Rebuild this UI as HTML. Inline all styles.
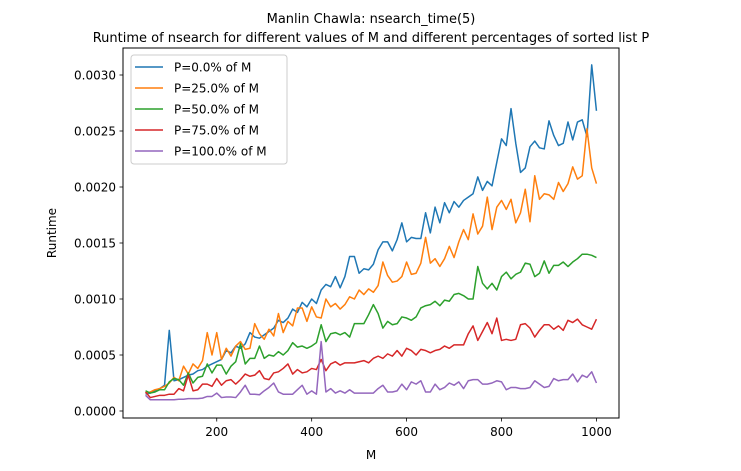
<!DOCTYPE html>
<html><head><meta charset="utf-8"><style>
html,body{margin:0;padding:0;background:#fff;}
svg{display:block;font-family:"DejaVu Sans","Liberation Sans",sans-serif;}
</style></head><body>
<svg id="chart" width="741" height="471" viewBox="0 0 741 471">
<text x="371" y="23" text-anchor="middle" font-size="13" fill="#000">Manlin Chawla: nsearch_time(5)</text>
<text x="371" y="42" text-anchor="middle" font-size="13" fill="#000">Runtime of nsearch for different values of M and different percentages of sorted list P</text>
<g id="plot"></g>
<rect x="123" y="48" width="496" height="370" fill="none" stroke="#000" stroke-width="1"/>
<g id="axes"></g>
<text x="371" y="459" text-anchor="middle" font-size="12">M</text>
<text transform="translate(56,233) rotate(-90)" text-anchor="middle" font-size="12">Runtime</text>
<g id="legend"></g>
</svg>
<script>
const xTicks=[200,400,600,800,1000];
const yTicks=[0,0.0005,0.0010,0.0015,0.0020,0.0025,0.0030];
const yTickLabels=["0.0000","0.0005","0.0010","0.0015","0.0020","0.0025","0.0030"];
const seriesNames=["P=0.0% of M","P=25.0% of M","P=50.0% of M","P=75.0% of M","P=100.0% of M"];
const colors=["#1f77b4","#ff7f0e","#2ca02c","#d62728","#9467bd"];
const p0=[1.5,1.6,1.8,2.0,2.3,7.2,2.7,2.8,3.0,3.2,3.3,3.6,3.7,4.0,4.2,4.4,4.6,5.4,5.2,5.8,5.6,6.0,7.0,6.6,6.5,6.8,7.1,7.4,8.1,7.9,8.3,9.1,8.8,9.7,9.3,10.0,9.6,10.8,11.3,11.1,12.0,11.0,12.0,13.8,13.8,
12.3,12.7,12.6,13.1,14.4,15.1,15.1,14.3,15.3,16.8,15.1,15.5,15.4,15.4,17.7,15.9,18.2,16.8,18.6,17.7,18.7,18.2,18.8,19.1,19.4,20.9,19.7,20.5,20.1,22.2,24.3,23.7,27.0,23.9,21.3,21.7,23.6,24.1,23.5,23.4,25.9,24.6,23.7,23.9,25.8,24.2,25.8,26.0,24.5,30.9,26.8];
const p25=[1.6,1.7,1.9,2.0,2.2,2.5,3.0,2.7,4.0,3.3,4.2,3.8,4.5,7.0,5.0,7.0,4.6,5.6,4.9,5.8,6.2,5.5,5.6,7.8,6.9,6.4,7.3,6.7,8.7,7.0,8.0,7.6,9.2,9.2,8.0,9.3,8.4,8.3,10.0,9.3,9.6,9.1,9.5,10.2,10.0,
10.8,10.4,10.9,10.6,11.2,13.3,12.1,11.5,11.6,12.0,13.3,12.2,12.3,13.2,15.5,13.2,13.6,12.9,13.6,14.7,13.7,15.1,16.2,15.3,17.6,15.8,16.5,19.1,16.2,18.2,18.8,18.0,18.9,16.8,17.7,19.8,16.9,21.0,18.9,19.4,19.3,18.9,20.4,19.6,20.3,21.8,20.7,21.0,25.2,21.7,20.3];
const p50=[1.8,1.6,1.7,1.9,1.9,2.6,2.9,2.8,2.3,3.4,2.5,3.0,3.1,4.2,3.4,4.1,4.1,3.3,4.0,4.4,6.0,4.2,4.7,4.7,5.8,4.7,5.0,4.9,5.3,5.0,5.4,6.1,5.7,5.8,5.6,5.8,6.1,7.7,6.2,6.9,7.0,6.8,7.0,6.6,7.8,
7.8,7.8,8.6,9.5,8.7,7.4,8.0,7.7,7.8,8.4,8.3,8.1,8.4,9.2,9.4,9.5,9.8,9.4,9.9,9.8,10.4,10.5,10.3,10.0,10.0,12.9,11.4,10.9,11.4,10.8,12.0,12.4,11.8,12.2,12.4,13.2,13.1,12.0,12.3,13.4,12.3,13.0,13.0,13.3,12.9,13.3,13.6,14.0,14.0,13.9,13.7];
const p75=[1.7,1.2,1.3,1.4,1.4,1.5,1.5,2.0,1.8,3.2,1.8,1.9,2.4,2.4,2.2,2.9,2.3,2.7,2.8,2.4,2.8,3.3,3.1,3.2,3.6,2.9,2.8,3.4,3.5,3.8,4.2,3.3,3.7,3.4,3.5,3.8,3.7,4.6,3.6,4.2,4.4,4.1,4.3,4.3,4.3,
4.4,4.5,4.3,4.7,4.9,4.7,5.1,4.9,5.4,4.9,5.6,5.4,5.0,5.5,5.4,5.2,5.4,5.5,5.8,5.6,5.9,5.9,5.9,6.9,7.6,6.3,7.1,7.9,6.9,8.3,6.3,6.4,6.3,6.4,7.7,7.8,7.4,6.6,7.2,7.7,7.7,7.3,7.6,7.2,8.1,7.9,8.2,7.7,7.5,7.3,8.2];
const p100=[1.4,1.0,1.0,1.0,1.0,1.0,1.0,1.05,1.05,1.1,1.1,1.1,1.15,1.3,1.3,1.6,1.2,1.25,1.25,1.2,1.7,2.3,1.5,1.5,1.45,1.8,2.1,2.5,1.7,1.5,1.5,1.5,1.9,2.3,1.5,1.8,1.5,6.2,1.7,2.0,1.6,1.8,1.6,1.9,1.6,
1.6,1.6,1.6,1.6,2.0,2.3,1.7,1.7,1.8,2.4,1.9,2.6,2.4,2.7,1.7,1.7,2.4,1.9,2.1,2.5,2.3,2.6,2.0,2.7,2.8,2.8,2.4,2.4,2.5,2.7,2.6,1.9,2.1,2.1,2.0,2.0,2.1,2.7,2.4,2.1,2.2,2.9,2.7,2.8,2.8,3.3,2.6,3.2,3.0,3.5,2.5];
const mStart=50, mStep=10, valueScale=1e-4;
const series=[p0,p25,p50,p75,p100];

const NS="http://www.w3.org/2000/svg";
function xs(m){return 123+(m-2.5)*(496/1045);}
function ys(v){return 411-v*112000;}
const plot=document.getElementById('plot');
const axes=document.getElementById('axes');
const legend=document.getElementById('legend');
const seriesKeys=["p0","p25","p50","p75","p100"];
series.forEach((arr,si)=>{
  const pts=arr.map((v,i)=>xs(mStart+i*mStep).toFixed(2)+","+ys(v*valueScale).toFixed(2)).join(" ");
  const pl=document.createElementNS(NS,'polyline');
  pl.setAttribute('points',pts);
  pl.setAttribute('fill','none');
  pl.setAttribute('stroke',colors[si]);
  pl.setAttribute('stroke-width','1.5');
  pl.setAttribute('stroke-linejoin','round');
  
  
  plot.appendChild(pl);
});
xTicks.forEach(t=>{
  const x=xs(t);
  const l=document.createElementNS(NS,'line');
  l.setAttribute('x1',x);l.setAttribute('x2',x);l.setAttribute('y1',418);l.setAttribute('y2',421.5);
  l.setAttribute('stroke','#000');l.setAttribute('stroke-width','0.8');
  
  
  axes.appendChild(l);
  const tx=document.createElementNS(NS,'text');
  tx.setAttribute('x',x);tx.setAttribute('y',436);tx.setAttribute('text-anchor','middle');tx.setAttribute('font-size','12');
  tx.textContent=t;
  
  
  axes.appendChild(tx);
});
yTicks.forEach((t,i)=>{
  const y=ys(t);
  const l=document.createElementNS(NS,'line');
  l.setAttribute('x1',119.5);l.setAttribute('x2',123);l.setAttribute('y1',y);l.setAttribute('y2',y);
  l.setAttribute('stroke','#000');l.setAttribute('stroke-width','0.8');
  
  
  axes.appendChild(l);
  const tx=document.createElementNS(NS,'text');
  tx.setAttribute('x',116);tx.setAttribute('y',y+4.5);tx.setAttribute('text-anchor','end');tx.setAttribute('font-size','12');
  tx.textContent=yTickLabels[i];
  
  
  axes.appendChild(tx);
});
const box=document.createElementNS(NS,'rect');
box.setAttribute('x',131);box.setAttribute('y',55);box.setAttribute('width',156);box.setAttribute('height',109);
box.setAttribute('rx',3);box.setAttribute('fill','#fff');box.setAttribute('fill-opacity','0.8');box.setAttribute('stroke','#ccc');


legend.appendChild(box);
seriesNames.forEach((n,i)=>{
  const y=67+i*21;
  const l=document.createElementNS(NS,'line');
  l.setAttribute('x1',135);l.setAttribute('x2',163);l.setAttribute('y1',y);l.setAttribute('y2',y);
  l.setAttribute('stroke',colors[i]);l.setAttribute('stroke-width','1.5');
  
  
  legend.appendChild(l);
  const tx=document.createElementNS(NS,'text');
  tx.setAttribute('x',174);tx.setAttribute('y',y+4.5);tx.setAttribute('font-size','12');
  tx.textContent=n;
  
  
  legend.appendChild(tx);
});
</script>
</body></html>
